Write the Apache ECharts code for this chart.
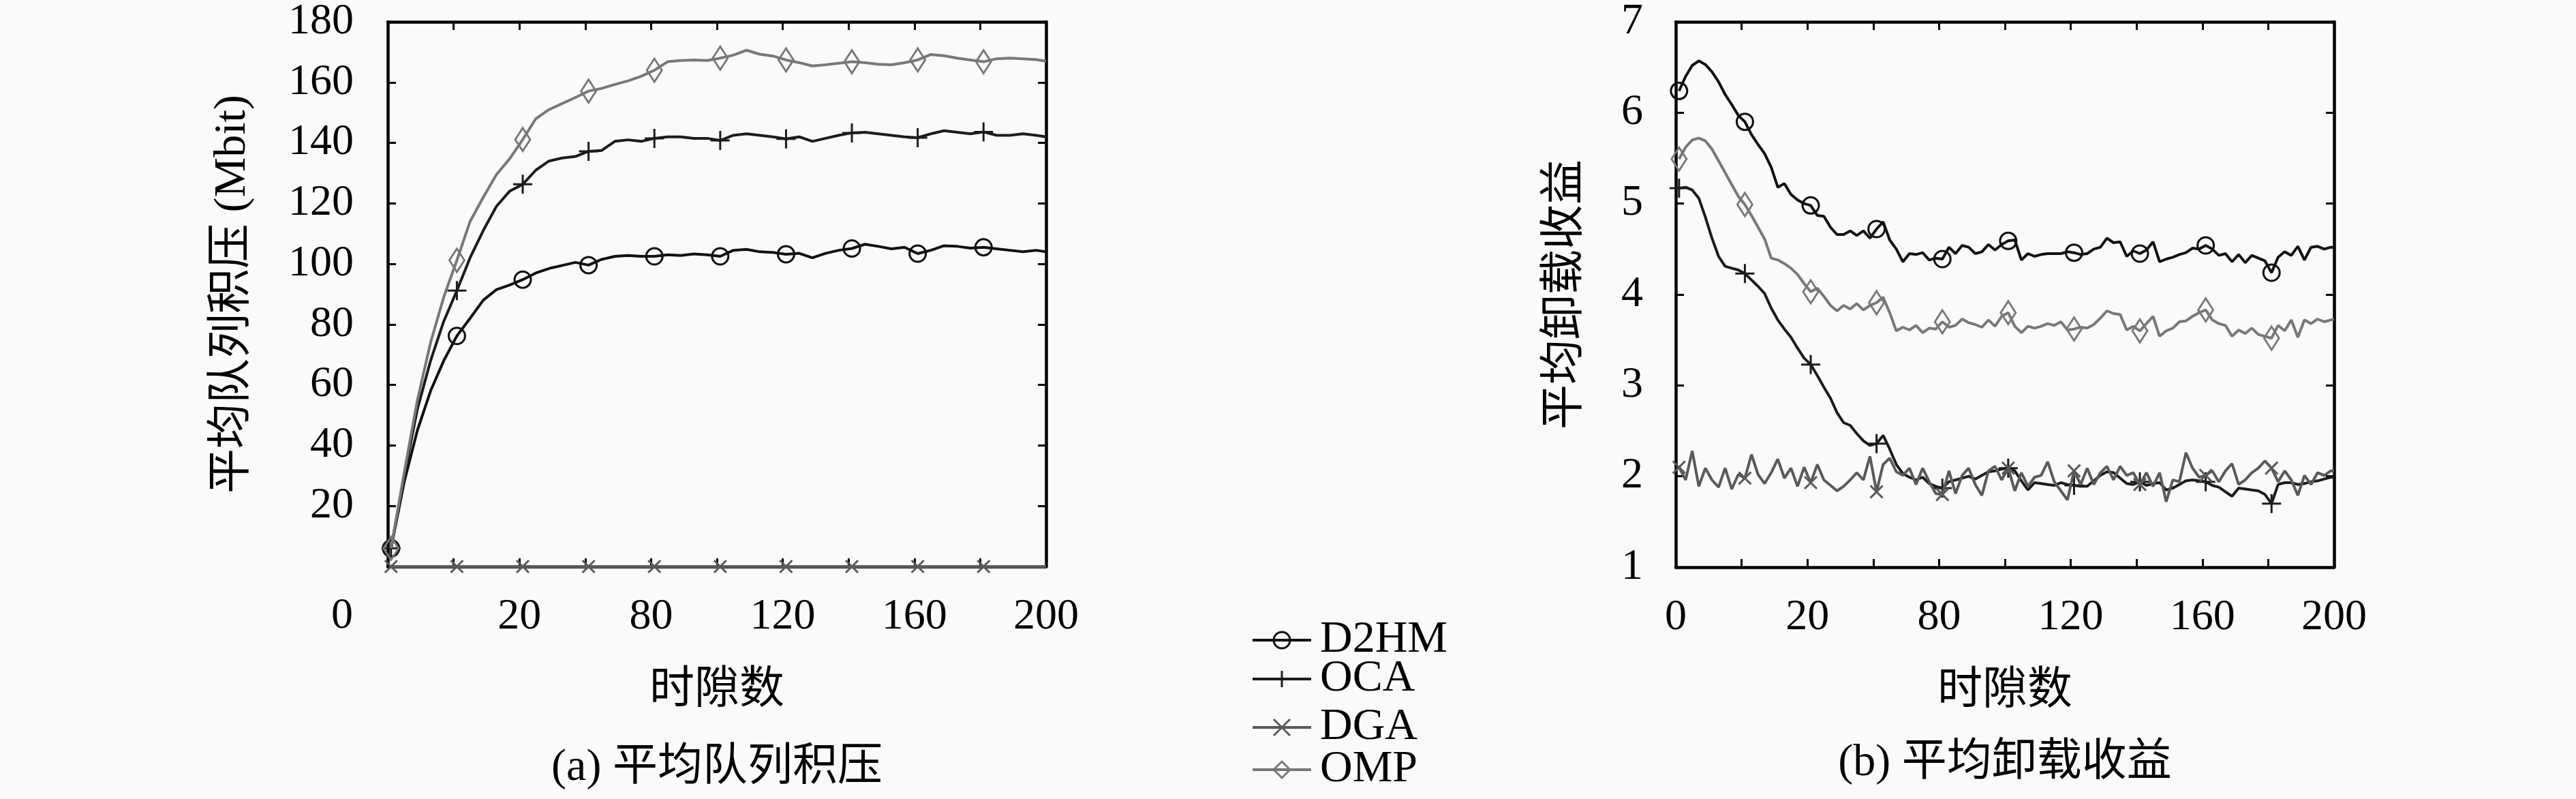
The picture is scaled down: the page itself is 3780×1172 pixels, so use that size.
<!DOCTYPE html>
<html lang="zh-CN">
<head>
<meta charset="utf-8">
<title>平均队列积压 / 平均卸载收益</title>
<style>
  html, body { margin: 0; padding: 0; background: #fafafa; }
  #main { width: 3780px; height: 1172px; }
</style>
</head>
<body>
<div id="main"></div>
<script src="https://cdn.jsdelivr.net/npm/echarts@6/dist/echarts.min.js"></script>
<script>
// ---- data ----
var names = ['D2HM', 'OCA', 'DGA', 'OMP'];

// (a) 平均队列积压, time slots
var slotsA = [1,5,9,13,17,21,25,29,33,37,41,45,49,53,57,61,65,69,73,77,81,85,89,93,97,
  101,105,109,113,117,121,125,129,133,137,141,145,149,153,157,161,165,169,173,177,181,185,189,193,197,200];
var queueD2HM = [6,28,45,58,68,76.2,82,88,91.5,93,
  94.8,97,98.5,99.5,100.5,99.6,101.5,102.5,102.8,102.5,
  102.5,103,102.8,103.3,103,102.5,104.5,104.8,104,103.8,
  103.2,103.5,102,103.5,104.5,105.1,106.5,105.8,105,105.5,
  103.4,104.5,106,105.8,105.2,105.5,105,104.5,104,104.5,104];
var queueOCA = [6,30,52,68,81,91.2,102,111,119,124,
  126.3,131,134,135,135.5,137.2,137.5,140.5,141,140.5,
  141.5,142,142,141.5,141.5,140.8,142.5,143,142.5,142,
  141.3,142,140.5,141.5,142.5,143.3,143.5,143,142.5,142,
  141.7,143,144,143.5,143,143.6,142.5,142.5,143,142.5,142];
var queueDGA = [0,0,0,0,0,0,0,0,0,0,
  0,0,0,0,0,0,0,0,0,0,
  0,0,0,0,0,0,0,0,0,0,
  0,0,0,0,0,0,0,0,0,0,
  0,0,0,0,0,0,0,0,0,0,0];
var queueOMP = [6,31,55,74,89,101.2,114,122,129.5,134.7,
  141.1,148,151,153,155,157.1,158,159.3,160.5,162,
  164,166.8,167.2,167.4,167.2,168,169,170.6,169.3,168.7,
  167.4,166.5,165.4,165.8,166.3,166.8,166.5,166,165.8,166.5,
  167.4,169.2,168.8,168,167.4,166.8,167.8,168,167.8,167.5,167];

// (b) 平均卸载收益, time slots
var slotsB = [1,3,5,7,9,11,13,15,17,19,21,23,25,27,29,31,33,35,37,39,
  41,43,45,47,49,51,53,55,57,59,61,63,65,67,69,71,73,75,77,79,
  81,83,85,87,89,91,93,95,97,99,101,103,105,107,109,111,113,115,117,119,
  121,123,125,127,129,131,133,135,137,139,141,143,145,147,149,151,153,155,157,159,
  161,163,165,167,169,171,173,175,177,179,181,183,185,187,189,191,193,195,197,199,200];
var gainD2HM = [6.24,6.40,6.52,6.57,6.53,6.45,6.34,6.20,6.09,5.97,
  5.90,5.76,5.65,5.55,5.40,5.18,5.22,5.10,5.04,5.00,
  4.98,4.87,4.86,4.74,4.66,4.66,4.70,4.65,4.70,4.62,
  4.72,4.80,4.60,4.50,4.36,4.45,4.44,4.46,4.38,4.40,
  4.39,4.52,4.45,4.54,4.52,4.45,4.47,4.55,4.49,4.55,
  4.59,4.60,4.38,4.45,4.42,4.44,4.45,4.45,4.45,4.47,
  4.46,4.44,4.45,4.50,4.52,4.62,4.57,4.58,4.42,4.48,
  4.45,4.49,4.58,4.36,4.39,4.41,4.44,4.46,4.51,4.50,
  4.54,4.50,4.43,4.45,4.36,4.44,4.35,4.43,4.40,4.37,
  4.24,4.41,4.47,4.43,4.53,4.38,4.52,4.53,4.50,4.52,4.52];
var gainOCA = [5.17,5.18,5.15,5.06,4.85,4.62,4.42,4.31,4.29,4.27,
  4.23,4.16,4.09,4.01,3.85,3.72,3.62,3.53,3.41,3.30,
  3.23,3.11,2.98,2.86,2.70,2.59,2.56,2.47,2.39,2.34,
  2.36,2.45,2.30,2.13,2.03,1.99,1.96,1.99,1.92,1.89,
  1.87,1.94,1.96,1.98,2.00,1.97,2.01,2.05,2.06,2.08,
  2.09,2.06,1.95,1.85,1.93,1.92,1.91,1.90,1.93,1.91,
  1.90,1.89,1.89,1.95,2.01,2.05,2.04,1.98,1.92,1.91,
  1.94,1.90,1.92,1.93,1.85,1.87,1.91,1.95,1.96,1.95,
  1.94,1.90,1.88,1.83,1.78,1.87,1.86,1.85,1.84,1.80,
  1.70,1.91,1.93,1.93,1.91,1.92,1.94,1.95,1.97,1.99,1.99];
var gainDGA = [2.10,1.96,2.28,1.89,2.09,1.96,1.88,2.09,1.86,2.02,
  1.98,2.24,2.02,1.92,2.04,2.19,1.98,2.09,1.89,2.10,
  1.93,2.13,1.96,1.90,1.84,1.89,1.96,2.04,1.96,2.22,
  1.83,2.13,2.20,2.05,2.01,2.09,1.91,2.09,1.94,1.81,
  1.80,2.06,1.81,2.01,2.09,1.91,1.79,2.06,2.11,1.96,
  2.09,1.84,2.04,1.89,1.99,2.01,2.16,1.94,1.84,1.74,
  2.06,1.91,2.09,1.91,2.04,2.11,1.96,2.11,2.01,2.04,
  1.91,2.04,1.89,2.04,1.72,1.96,1.94,2.26,2.09,1.99,
  2.01,2.06,1.94,2.06,2.14,1.91,1.96,2.04,2.09,2.17,
  2.09,1.94,2.06,1.96,1.79,2.01,1.91,2.04,2.01,2.06,2.06];
var gainOMP = [5.49,5.62,5.70,5.72,5.69,5.60,5.47,5.34,5.21,5.08,
  4.99,4.87,4.74,4.61,4.40,4.38,4.34,4.29,4.22,4.12,
  4.03,4.07,3.98,3.88,3.82,3.88,3.84,3.90,3.83,3.88,
  3.91,3.97,3.80,3.60,3.64,3.61,3.66,3.58,3.63,3.62,
  3.70,3.64,3.66,3.73,3.69,3.67,3.64,3.72,3.65,3.76,
  3.80,3.65,3.58,3.65,3.63,3.65,3.68,3.66,3.70,3.61,
  3.62,3.64,3.63,3.67,3.74,3.82,3.79,3.78,3.61,3.65,
  3.60,3.68,3.76,3.54,3.60,3.63,3.70,3.71,3.76,3.80,
  3.83,3.72,3.68,3.66,3.54,3.61,3.57,3.63,3.56,3.54,
  3.52,3.66,3.60,3.72,3.53,3.72,3.68,3.73,3.70,3.72,3.73];

// tick labels as printed on the figure
var xLabelText = ['0', '20', '80', '120', '160', '200'];
var xLabelAt = [0, 40, 80, 120, 160, 200];

// ---- styling ----
var serif = "'Liberation Serif', 'Noto Sans CJK SC', serif";
var colors = ['#111111', '#1c1c1c', '#5a5a5a', '#787878'];
var symbols = [
  'path://M0,-1A1,1,0,1,1,0,1A1,1,0,1,1,0,-1Z',
  'path://M0,-1L0,1M-1,0L1,0',
  'path://M-1,-1L1,1M-1,1L1,-1',
  'path://M0,-1L1,0L0,1L-1,0Z'
];
var symbolSizes = [24, 28, 18, [22, 34]];
var legendTops = [906, 963, 1034, 1096];

function points(slots, vals, every) {
  var last = slots.length - 1;
  return vals.map(function (v, i) {
    var p = { value: [slots[i], v] };
    if (!(i % every === 0 && i < last - 1)) p.symbol = 'none';
    return p;
  });
}

function makeSeries(k, slots, vals, every, gridNo) {
  return {
    name: names[k],
    type: 'line',
    xAxisIndex: gridNo * 2,
    yAxisIndex: gridNo * 2,
    data: points(slots, vals, every),
    symbol: symbols[k],
    symbolSize: symbolSizes[k],
    showAllSymbol: true,
    clip: false,
    lineStyle: { color: colors[k], width: 4 },
    itemStyle: { color: 'transparent', borderColor: colors[k], borderWidth: 3 },
    emphasis: { disabled: true },
    z: 3 + k
  };
}

function frameX(gridNo, bottom) {
  return {
    type: 'value', gridIndex: gridNo, position: bottom ? 'bottom' : 'top',
    min: 0, max: 200, interval: 20,
    axisLine: { show: true, onZero: false, lineStyle: { color: '#000', width: 4.5 } },
    axisTick: { show: true, inside: true, length: 12, lineStyle: { color: '#000', width: 3 } },
    axisLabel: { show: false },
    splitLine: { show: false }
  };
}

function frameY(gridNo, left, min, max, step) {
  return {
    type: 'value', gridIndex: gridNo, position: left ? 'left' : 'right',
    min: min, max: max, interval: step,
    axisLine: { show: true, onZero: false, lineStyle: { color: '#000', width: 4.5 } },
    axisTick: { show: true, inside: true, length: 12, lineStyle: { color: '#000', width: 3 } },
    axisLabel: { show: false },
    splitLine: { show: false }
  };
}

var xA = frameX(0, true);
xA.axisLabel = {
  show: true, customValues: xLabelAt.slice(1), margin: 42,
  fontFamily: serif, fontSize: 64, color: '#000',
  formatter: function (v) { return xLabelText[xLabelAt.indexOf(v)]; }
};
xA.name = '时隙数';
xA.nameLocation = 'middle';
xA.nameGap = 150;
xA.nameTextStyle = { fontFamily: serif, fontSize: 66, color: '#000' };

var xB = frameX(1, true);
xB.axisLabel = {
  show: true, customValues: xLabelAt, margin: 42,
  fontFamily: serif, fontSize: 64, color: '#000',
  formatter: function (v) { return xLabelText[xLabelAt.indexOf(v)]; }
};
xB.name = '时隙数';
xB.nameLocation = 'middle';
xB.nameGap = 150;
xB.nameTextStyle = { fontFamily: serif, fontSize: 66, color: '#000' };

var yA = frameY(0, true, 0, 180, 20);
yA.axisLabel = { show: true, showMinLabel: false, margin: 50, fontFamily: serif, fontSize: 64, color: '#000' };
yA.name = '平均队列积压 (Mbit)';
yA.nameLocation = 'middle';
yA.nameGap = 194;
yA.nameTextStyle = { fontFamily: serif, fontSize: 66, color: '#000' };

var yB = frameY(1, true, 1, 7, 1);
yB.axisLabel = { show: true, margin: 48, fontFamily: serif, fontSize: 64, color: '#000' };
yB.name = '平均卸载收益';
yB.nameLocation = 'middle';
yB.nameGap = 128;
yB.nameTextStyle = { fontFamily: serif, fontSize: 66, color: '#000' };

var queueVals = [queueD2HM, queueOCA, queueDGA, queueOMP];
var gainVals = [gainD2HM, gainOCA, gainDGA, gainOMP];
var series = [];
for (var k = 0; k < 4; k++) series.push(makeSeries(k, slotsA, queueVals[k], 5, 0));
for (var k2 = 0; k2 < 4; k2++) series.push(makeSeries(k2, slotsB, gainVals[k2], 10, 1));

// one legend block per row, so the rows keep the spacing of the figure
var legends = names.map(function (n, k) {
  return {
    data: [{
      name: n,
      lineStyle: { color: colors[k], width: 4 },
      itemStyle: { color: 'transparent', borderColor: colors[k], borderWidth: 3 }
    }],
    orient: 'vertical',
    left: 1836, top: legendTops[k],
    padding: 0,
    itemWidth: 86, itemHeight: 30,
    selectedMode: false,
    textStyle: { fontFamily: serif, fontSize: 66, color: '#000', padding: [0, 0, 0, 8] }
  };
});

var myChart = echarts.init(document.getElementById('main'));
var option = {
  backgroundColor: '#fafafa',
  animation: false,
  grid: [
    { left: 569, top: 28, width: 966, height: 803 },
    { left: 2459, top: 29, width: 966, height: 803 }
  ],
  xAxis: [xA, frameX(0, false), xB, frameX(1, false)],
  yAxis: [yA, frameY(0, false, 0, 180, 20), yB, frameY(1, false, 1, 7, 1)],
  legend: legends,
  graphic: [
    { type: 'text', left: 486, top: 872, style: { text: '0', fontFamily: serif, fontSize: 64, fill: '#000' } },
    { type: 'text', x: 1052, y: 1127, style: { text: '(a) 平均队列积压', fontFamily: serif, fontSize: 66, fill: '#000', textAlign: 'center', textVerticalAlign: 'middle' } },
    { type: 'text', x: 2942, y: 1120, style: { text: '(b) 平均卸载收益', fontFamily: serif, fontSize: 66, fill: '#000', textAlign: 'center', textVerticalAlign: 'middle' } }
  ],
  series: series
};
myChart.setOption(option);
window.addEventListener('resize', function () { myChart.resize(); });
</script>
</body>
</html>
